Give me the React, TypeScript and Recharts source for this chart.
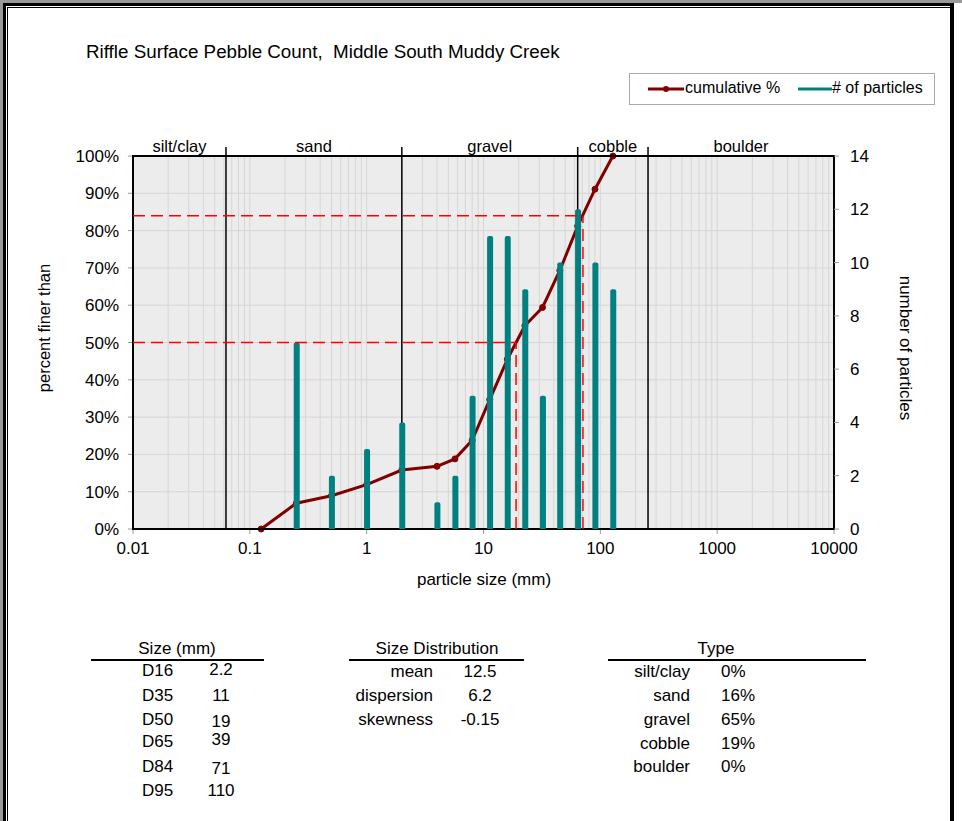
import {
  ComposedChart,
  Line,
  Bar,
  XAxis,
  YAxis,
  CartesianGrid,
  ReferenceLine,
  ReferenceArea,
  ReferenceDot,
} from 'recharts'

// pebble count: sieve size (mm), cumulative percent finer, particles per class
const sizes = [0.125, 0.25, 0.5, 1, 2, 4, 5.7, 8, 11.3, 16, 22.6, 32, 45, 64, 90, 128]
const cumulative = [0, 6.9, 8.9, 11.9, 15.8, 16.8, 18.8, 23.8, 34.7, 45.5, 54.5, 59.4, 69.3, 81.2, 91.1, 100]
const counts = [null, 7, 2, 3, 4, 1, 2, 5, 11, 11, 9, 5, 10, 12, 10, 9]

// size classes along the top of the plot
const classNames = ['silt/clay', 'sand', 'gravel', 'cobble', 'boulder']
const classCenters = [0.025, 0.354, 11.3, 128, 1600]
const classBounds = [0.0625, 2, 64, 256]

const sizeTicks = [0.01, 0.1, 1, 10, 100, 1000, 10000]
const pctTicks = [0, 10, 20, 30, 40, 50, 60, 70, 80, 90, 100]
const countTicks = [0, 2, 4, 6, 8, 10, 12, 14]

// summary tables
const dLabels = ['D16', 'D35', 'D50', 'D65', 'D84', 'D95']
const dValues = [2.2, 11, 19, 39, 71, 110]
const distLabels = ['mean', 'dispersion', 'skewness']
const distValues = ['12.5', '6.2', '-0.15']
const typeLabels = ['silt/clay', 'sand', 'gravel', 'cobble', 'boulder']
const typeValues = [0, 16, 65, 19, 0]

const data = sizes.map((size, i) => ({ size, cum: cumulative[i], count: counts[i] }))

// log-scale minor gridlines, 1..9 in each decade
const minorLines: number[] = []
for (let e = -2; e < 4; e++) {
  for (let m = 1; m < 10; m++) minorLines.push(Number((m * Math.pow(10, e)).toPrecision(3)))
}

const FONT = '"Liberation Sans", Arial, sans-serif'
const RED = '#800000'
const TEAL = '#008080'

const d50 = dValues[2]
const d84 = dValues[4]
const guides = [
  [d50, 50],
  [d84, 84],
]

const CHART_W = 962
const CHART_H = 620
const MARGIN = { top: 156, right: 68, left: 73, bottom: 61 }

const abs = (left: number, top: number, extra: React.CSSProperties = {}): React.CSSProperties => ({
  position: 'absolute',
  left,
  top,
  whiteSpace: 'pre',
  ...extra,
})

// the same three axes in both layers so the scales line up; each axis shows its ticks
// in the layer that holds its series
function Axes({ left, right }: { left: boolean; right: boolean }) {
  const tick = { fill: '#000', fontSize: 17, fontFamily: FONT }
  const tickLine = { stroke: '#999' }
  return (
    <>
      <XAxis
        xAxisId="size"
        dataKey="size"
        type="number"
        scale="log"
        domain={[0.01, 10000]}
        allowDataOverflow
        ticks={sizeTicks}
        interval={0}
        tickFormatter={(v: number) => String(v)}
        height={30}
        axisLine={false}
        tickLine={left ? tickLine : false}
        tickSize={5}
        tickMargin={8}
        tick={left ? tick : false}
      />
      <YAxis
        yAxisId="pct"
        domain={[0, 100]}
        ticks={pctTicks}
        interval={0}
        tickFormatter={(v: number) => `${v}%`}
        width={60}
        axisLine={false}
        tickLine={left ? tickLine : false}
        tickSize={5}
        tickMargin={9}
        tick={left ? tick : false}
      />
      <YAxis
        yAxisId="count"
        orientation="right"
        domain={[0, 14]}
        ticks={countTicks}
        interval={0}
        width={60}
        axisLine={false}
        tickLine={right ? tickLine : false}
        tickSize={5}
        tickMargin={11}
        tick={right ? { ...tick, textAnchor: 'start' } : false}
      />
    </>
  )
}

function Tables() {
  const rowD = [671, 696, 720, 742, 767, 791]
  const rowDv = [670, 696, 722, 740, 769, 791]
  const rowS = [672, 696, 720]
  const rowT = [672, 696, 720, 744, 767]
  const cell = (x: number, y: number, text: string, align: 'left' | 'right' | 'center') => (
    <div
      key={`${x}-${y}-${text}`}
      style={abs(align === 'right' ? x - 200 : align === 'center' ? x - 100 : x, y - 8, {
        width: align === 'left' ? undefined : 200,
        textAlign: align,
        fontSize: 17,
        lineHeight: '16px',
      })}
    >
      {text}
    </div>
  )
  return (
    <>
      {cell(177, 649, 'Size (mm)', 'center')}
      <div style={abs(91, 659, { width: 173, height: 2, background: '#000' })} />
      {dLabels.map((l, i) => cell(142, rowD[i], l, 'left'))}
      {dValues.map((v, i) => cell(221, rowDv[i], String(v), 'center'))}

      {cell(437, 649, 'Size Distribution', 'center')}
      <div style={abs(349, 659, { width: 175, height: 2, background: '#000' })} />
      {distLabels.map((l, i) => cell(433, rowS[i], l, 'right'))}
      {distValues.map((v, i) => cell(480, rowS[i], v, 'center'))}

      {cell(716, 649, 'Type', 'center')}
      <div style={abs(608, 659, { width: 258, height: 2, background: '#000' })} />
      {typeLabels.map((l, i) => cell(690, rowT[i], l, 'right'))}
      {typeValues.map((v, i) => cell(721, rowT[i], `${v}%`, 'left'))}
    </>
  )
}

export default function App() {
  return (
    <div
      style={{
        position: 'absolute',
        left: 0,
        top: 0,
        width: 962,
        height: 821,
        background: '#fff',
        overflow: 'hidden',
        fontFamily: FONT,
        color: '#000',
      }}
    >
      {/* frame */}
      <div style={abs(0, 0, { width: 962, height: 3, background: '#999' })} />
      <div style={abs(0, 0, { width: 3, height: 821, background: '#999' })} />
      <div style={abs(3, 3, { width: 944, height: 840, borderLeft: '3px solid #000', borderTop: '3px solid #000', borderRight: '4px solid #000' })} />
      <div style={abs(7, 7, { width: 942, height: 840, borderLeft: '1.5px solid #000', borderTop: '1.5px solid #000' })} />

      <div style={abs(86, 41, { fontSize: 18.8 })}>Riffle Surface Pebble Count,  Middle South Muddy Creek</div>

      {/* legend */}
      <div style={abs(629, 73, { width: 304, height: 30, border: '1px solid #aaa', background: '#fff', fontSize: 16 })}>
        <svg width={40} height={30} style={{ position: 'absolute', left: 16, top: 0 }}>
          <line x1={2} y1={15} x2={38} y2={15} stroke={RED} strokeWidth={3} />
          <circle cx={20} cy={15} r={3} fill={RED} />
        </svg>
        <div style={abs(55, 5)}>cumulative %</div>
        <svg width={40} height={30} style={{ position: 'absolute', left: 166, top: 0 }}>
          <line x1={2} y1={15} x2={36} y2={15} stroke={TEAL} strokeWidth={3} />
        </svg>
        <div style={abs(202, 5)}># of particles</div>
      </div>

      {/* lower layer: plot background, gridlines, class boundaries, cumulative curve */}
      <ComposedChart
        width={CHART_W}
        height={CHART_H}
        data={data}
        margin={MARGIN}
        style={{ position: 'absolute', left: 0, top: 0 }}
      >
        <CartesianGrid
          xAxisId="size"
          yAxisId="pct"
          fill="#ececec"
          stroke="#d6d6d6"
          verticalValues={minorLines}
          horizontalValues={pctTicks}
        />
        {Axes({ left: true, right: false })}
        {classBounds.map((b) => (
          <ReferenceLine
            key={b}
            xAxisId="size"
            yAxisId="pct"
            segment={[{ x: b, y: 0 }, { x: b, y: 102.4 }]}
            stroke="#000"
            strokeWidth={1.5}
            ifOverflow="visible"
          />
        ))}
        {classNames.map((name, i) => (
          <ReferenceDot
            key={name}
            xAxisId="size"
            yAxisId="pct"
            x={classCenters[i]}
            y={100}
            r={0}
            stroke="none"
            fill="none"
            ifOverflow="visible"
            label={{ value: name, position: 'top', offset: 4, fill: '#000', fontSize: 16.5, fontFamily: FONT }}
          />
        ))}
        <Line
          xAxisId="size"
          yAxisId="pct"
          dataKey="cum"
          stroke={RED}
          strokeWidth={3}
          dot={{ r: 3, fill: RED, stroke: RED, strokeWidth: 1 }}
          isAnimationActive={false}
        />
      </ComposedChart>

      {/* upper layer: particle counts, D50/D84 guides, plot border */}
      <ComposedChart
        width={CHART_W}
        height={CHART_H}
        data={data}
        margin={MARGIN}
        style={{ position: 'absolute', left: 0, top: 0 }}
      >
        {Axes({ left: false, right: true })}
        {/* unstroked copy of the curve keeps the percent axis scaled in this layer */}
        <Line
          xAxisId="size"
          yAxisId="pct"
          dataKey="cum"
          stroke="none"
          dot={false}
          activeDot={false}
          isAnimationActive={false}
        />
        <Bar
          xAxisId="size"
          yAxisId="count"
          dataKey="count"
          fill={TEAL}
          barSize={6}
          radius={[2, 2, 0, 0]}
          isAnimationActive={false}
        />
        {guides.map(([d, p]) => (
          <ReferenceLine
            key={`h${p}`}
            xAxisId="size"
            yAxisId="pct"
            segment={[{ x: 0.01, y: p }, { x: d, y: p }]}
            stroke="#ff0000"
            strokeWidth={1.5}
            strokeDasharray="12 6"
          />
        ))}
        {guides.map(([d, p]) => (
          <ReferenceLine
            key={`v${p}`}
            xAxisId="size"
            yAxisId="pct"
            segment={[{ x: d, y: 0 }, { x: d, y: p }]}
            stroke="#ff0000"
            strokeWidth={1.5}
            strokeDasharray="12 6"
          />
        ))}
        <ReferenceArea
          xAxisId="size"
          yAxisId="pct"
          x1={0.01}
          x2={10000}
          y1={0}
          y2={100}
          fill="none"
          fillOpacity={0}
          stroke="#000"
          strokeWidth={2}
          ifOverflow="visible"
        />
      </ComposedChart>

      {/* axis titles */}
      <div style={abs(44, 328, { fontSize: 16.5, transform: 'translate(-50%, -50%) rotate(-90deg)' })}>percent finer than</div>
      <div style={abs(905, 348, { fontSize: 17, transform: 'translate(-50%, -50%) rotate(90deg)' })}>number of particles</div>
      <div style={abs(484, 580, { fontSize: 17, transform: 'translate(-50%, -50%)' })}>particle size (mm)</div>

      <Tables />
    </div>
  )
}
